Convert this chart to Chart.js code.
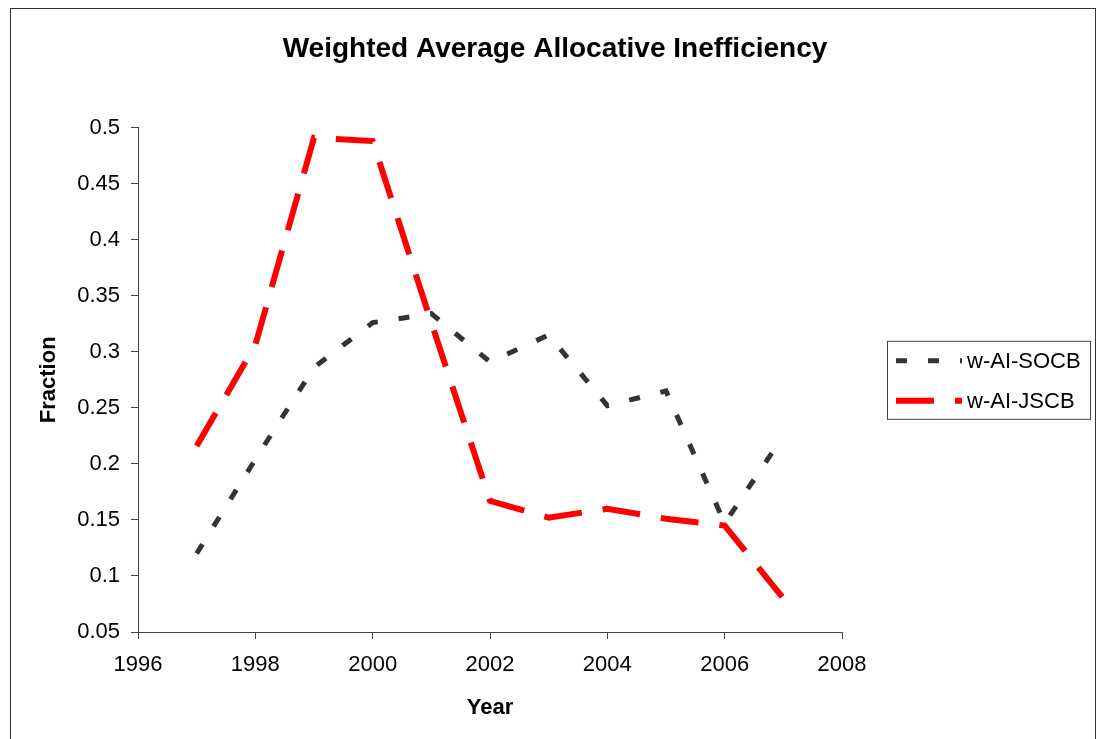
<!DOCTYPE html>
<html>
<head>
<meta charset="utf-8">
<script src="https://cdn.jsdelivr.net/npm/chart.js@4.4.1/dist/chart.umd.min.js"></script>
<style>
html, body { margin: 0; padding: 0; background: #fff; overflow: hidden; }
#frame { position: absolute; left: 10px; top: 8px; width: 1084px; height: 800px; border: 1px solid #333; }
#wrap { position: absolute; left: 0; top: 0; width: 1098px; height: 739px; }
</style>
</head>
<body>
<div id="frame"></div>
<div id="wrap"><canvas id="chartAI" width="1098" height="739"></canvas></div>
<script>
// --- Data ---
const years = [1997, 1998, 1999, 2000, 2001, 2002, 2003, 2004, 2005, 2006, 2007];
const socb = [0.12, 0.204, 0.286, 0.326, 0.334, 0.291, 0.315, 0.252, 0.265, 0.147, 0.225];
const jscb = [0.216, 0.306, 0.491, 0.488, 0.326, 0.167, 0.152, 0.16, 0.151, 0.145, 0.08];
const seriesNames = ['w-AI-SOCB', 'w-AI-JSCB'];
const xTicks = [1996, 1998, 2000, 2002, 2004, 2006, 2008];
const yTicks = [0.05, 0.1, 0.15, 0.2, 0.25, 0.3, 0.35, 0.4, 0.45, 0.5];

const FONT = "'Liberation Sans', Arial, sans-serif";
const axisColor = '#444444';

// legend box drawn on canvas, to the right of the plot
const boxLegendPlugin = {
    id: 'boxLegend',
    afterDraw: (chart) => {
        const { ctx, chartArea } = chart;
        const left = chartArea.right + 45;
        const width = 203, height = 78;
        const midY = (chartArea.top + chartArea.bottom) / 2;
        const top = midY - height / 2;

        ctx.save();
        ctx.strokeStyle = '#444';
        ctx.lineWidth = 1;
        ctx.strokeRect(left + 0.5, top + 0.5, width, height);

        chart.data.datasets.forEach((ds, i) => {
            const y = top + 20 + i * 40;
            ctx.beginPath();
            ctx.setLineDash(ds.borderDash);
            ctx.lineDashOffset = 0;
            ctx.lineCap = 'butt';
            ctx.strokeStyle = ds.borderColor;
            ctx.lineWidth = ds.borderWidth;
            ctx.moveTo(left + 9, y);
            ctx.lineTo(left + 75, y);
            ctx.stroke();
            ctx.setLineDash([]);
            ctx.fillStyle = '#000';
            ctx.font = '22px ' + FONT;
            ctx.textAlign = 'left';
            ctx.textBaseline = 'middle';
            ctx.fillText(ds.label, left + 80, y + 1);
        });
        ctx.restore();
    }
};

new Chart(document.getElementById('chartAI'), {
    type: 'line',
    data: {
        datasets: [
            {
                label: seriesNames[0],
                data: years.map((yr, i) => ({ x: yr, y: socb[i] })),
                borderColor: '#333333', borderWidth: 5, borderDash: [11, 21],
                pointRadius: 0, fill: false, tension: 0
            },
            {
                label: seriesNames[1],
                data: years.map((yr, i) => ({ x: yr, y: jscb[i] })),
                borderColor: '#ff0000', borderWidth: 6, borderDash: [38, 21],
                pointRadius: 0, fill: false, tension: 0
            }
        ]
    },
    options: {
        responsive: false,
        animation: false,
        layout: { padding: { left: 12, top: 0, right: 0, bottom: 0 } },
        plugins: {
            legend: { display: false },
            tooltip: { enabled: false },
            title: {
                display: true,
                text: 'Weighted Average Allocative Inefficiency',
                color: '#000',
                font: { family: FONT, size: 28, weight: 'bold' },
                padding: { top: 32, bottom: 62 }
            }
        },
        scales: {
            x: {
                type: 'linear',
                min: 1996, max: 2008,
                afterBuildTicks: (s) => { s.ticks = xTicks.map(v => ({ value: v })); },
                afterFit: (s) => { s.height = 107; },
                ticks: {
                    color: '#000', padding: 13,
                    font: { family: FONT, size: 22 },
                    callback: (v) => String(v)
                },
                grid: { drawOnChartArea: false, drawTicks: true, tickLength: 7, color: axisColor },
                border: { display: true, color: axisColor, width: 1 },
                title: {
                    display: true, text: 'Year', color: '#000',
                    font: { family: FONT, size: 22, weight: 'bold' },
                    padding: { top: 0, bottom: 18 }
                }
            },
            y: {
                min: 0.05, max: 0.5,
                afterBuildTicks: (s) => { s.ticks = yTicks.map(v => ({ value: v })); },
                afterFit: (s) => { s.width = 126; },
                ticks: {
                    color: '#000', padding: 11,
                    font: { family: FONT, size: 22 },
                    callback: (v) => String(Number(v.toFixed(2)))
                },
                grid: { drawOnChartArea: false, drawTicks: true, tickLength: 7, color: axisColor },
                border: { display: true, color: axisColor, width: 1 },
                title: {
                    display: true, text: 'Fraction', color: '#000',
                    font: { family: FONT, size: 22, weight: 'bold' },
                    padding: { top: 24, bottom: 0 }
                }
            },
            // empty right-hand axis, keeps room for the legend box
            yRoom: {
                position: 'right',
                display: true,
                afterFit: (s) => { s.width = 256; },
                ticks: { display: false },
                grid: { display: false },
                border: { display: false }
            }
        }
    },
    plugins: [boxLegendPlugin]
});
</script>
</body>
</html>
